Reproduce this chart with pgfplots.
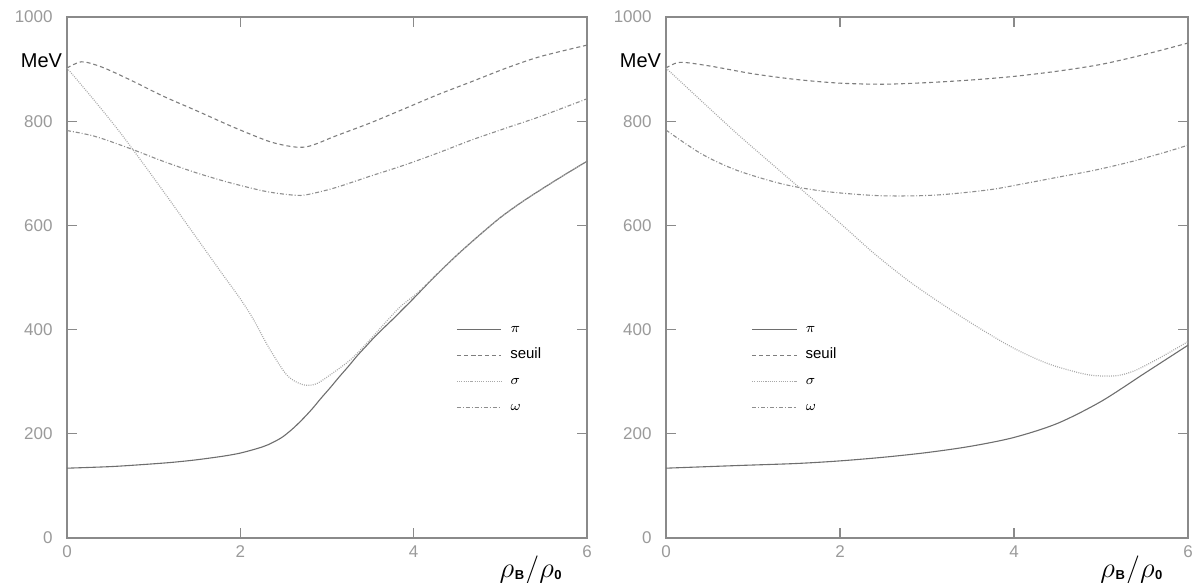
\documentclass[border=0pt]{standalone}
\usepackage{pgfplots}
\pgfplotsset{compat=1.18}
\usepackage{fontspec}
\setmainfont{Liberation Sans}
\definecolor{frame}{HTML}{8A8A8A}
\definecolor{tlab}{HTML}{9A9A9A}
\definecolor{cpi}{HTML}{6E6E6E}
\definecolor{cseuil}{HTML}{7E7E7E}
\definecolor{csig}{HTML}{A8A8A8}
\definecolor{comega}{HTML}{8E8E8E}
\tikzset{
  leg/.style={font=\fontsize{7.5}{8}\selectfont, anchor=base west, inner sep=0pt, yshift=-1.3pt},
  xlab/.style={inner sep=0pt, anchor=north, yshift=-9pt},
}
\newcommand{\rholab}{{\fontsize{14}{14}\selectfont$\rho$}\kern0.3pt\raisebox{-0.6pt}{\fontsize{6.5}{6.5}\selectfont\textbf{B}}\kern0.5pt{\fontsize{14}{14}\selectfont$/\rho$}\kern0.3pt\raisebox{-0.6pt}{\fontsize{6.5}{6.5}\selectfont\textbf{0}}}
\pgfplotsset{
  panel/.style={
    scale only axis, width=260.5pt, height=260.5pt,
    xmin=0, xmax=6, ymin=0, ymax=1000,
    xtick={0,2,4,6}, ytick={0,200,400,600,800,1000},
    tick align=inside, major tick length=5pt,
    axis line style={draw=frame, line width=0.6pt},
    every tick/.style={draw=frame, line width=0.6pt},
    tick label style={font=\fontsize{8.5}{9}\selectfont, text=tlab, inner sep=0pt},
    /pgf/number format/assume math mode=true,
    /pgf/number format/1000 sep={},
    yticklabel style={anchor=east, xshift=-7pt},
    xticklabel style={anchor=north, yshift=-3.5pt},
    clip=false,
  },
  spi/.style={color=cpi, line width=0.55pt, smooth},
  sseuil/.style={color=cseuil, line width=0.55pt, dash pattern=on 2pt off 1.5pt, smooth},
  ssig/.style={color=csig, line width=0.6pt, dash pattern=on 0.45pt off 0.65pt, smooth},
  somega/.style={color=comega, line width=0.55pt, dash pattern=on 2pt off 1pt on 0.45pt off 1pt, smooth},
}
\begin{document}
\begin{tikzpicture}
\useasboundingbox (0,0) rectangle (597.5pt,291.5pt);
% ---------------- left panel
\begin{axis}[panel, at={(33.5pt,22.5pt)}, anchor=south west, width=260pt]
\addplot[spi] coordinates {(0,134) (0.5,137) (0.88,141) (1.2,145) (1.49,150) (1.8,157) (2,163) (2.2,172) (2.32,179) (2.45,190) (2.52,198) (2.62,212) (2.73,230) (2.83,248) (2.93,268) (3.04,289) (3.14,309) (3.25,330) (3.35,350) (3.45,368) (3.55,386) (3.66,404) (3.76,420) (3.88,440) (4,460) (4.25,503) (4.5,543) (4.75,580) (5,615) (5.25,645) (5.5,672) (5.75,698) (6,723)};
\addplot[sseuil] coordinates {(0,902) (0.17,914) (0.4,904) (0.72,880) (1.11,848) (1.51,819) (1.9,790) (2.3,763) (2.5,754) (2.66,750) (2.77,751) (2.9,758) (3.09,771) (3.49,796) (3.88,823) (4.28,851) (4.67,876) (5.07,902) (5.46,924) (6,946)};
\addplot[ssig] coordinates {(0,902) (0.3,843) (0.6,781) (0.9,714) (1.2,645) (1.5,575) (1.8,505) (2.0,459) (2.15,420) (2.32,368) (2.52,316) (2.65,299) (2.77,293) (2.89,297) (3.07,317) (3.27,342) (3.46,374) (3.65,409) (3.84,443) (4.04,470) (4.25,503) (4.5,543) (4.75,580) (5,615) (5.25,645) (5.5,672) (5.75,698) (6,723)};
\addplot[somega] coordinates {(0,782) (0.32,771) (0.72,748) (1.11,723) (1.51,700) (1.9,681) (2.3,665) (2.62,658) (2.77,659) (3.09,672) (3.49,694) (3.88,715) (4.28,739) (4.67,764) (5.07,787) (5.46,809) (6,843)};
% legend
\addplot[spi] coordinates {(4.5,400) (5.01,400)};
\addplot[sseuil] coordinates {(4.5,350) (5.01,350)};
\addplot[ssig] coordinates {(4.5,300) (5.01,300)};
\addplot[somega] coordinates {(4.5,250) (5.01,250)};
\node[leg] at (axis cs:5.11,400) {$\pi$};
\node[leg] at (axis cs:5.11,350) {seuil};
\node[leg] at (axis cs:5.11,300) {$\sigma$};
\node[leg] at (axis cs:5.11,250) {$\omega$};
\node[anchor=east, inner sep=0pt, font=\fontsize{10}{10}\selectfont] at (rel axis cs:0,0.917) [xshift=-2.3pt] {MeV};
\node[xlab] at (axis cs:5.35,0) {\rholab};
\end{axis}
% ---------------- right panel
\begin{axis}[panel, at={(333pt,22.5pt)}, anchor=south west, width=261pt]
\addplot[spi] coordinates {(0,134) (0.81,139) (1.5,143) (2,148) (2.5,155) (3,164) (3.5,176) (4,193) (4.5,220) (5,262) (5.5,316) (6,370)};
\addplot[sseuil] coordinates {(0,902) (0.16,913) (0.5,906) (1.0,891) (1.5,880) (2,873) (2.5,871) (3,874) (3.5,879) (4,886) (4.5,896) (5,909) (5.5,928) (6,950)};
\addplot[ssig] coordinates {(0,902) (0.4,840) (0.81,777) (1.23,716) (1.64,657) (2.05,597) (2.4,545) (2.8,492) (3.2,446) (3.6,403) (4.0,364) (4.4,334) (4.8,315) (5.0,311) (5.2,312) (5.4,322) (5.7,348) (6,377)};
\addplot[somega] coordinates {(0,783) (0.4,738) (0.81,706) (1.35,679) (1.84,665) (2.46,657) (3.08,658) (3.7,668) (4.11,680) (4.52,693) (4.93,706) (5.34,722) (5.75,741) (6,754)};
% legend
\addplot[spi] coordinates {(0.99,400) (1.5,400)};
\addplot[sseuil] coordinates {(0.99,350) (1.5,350)};
\addplot[ssig] coordinates {(0.99,300) (1.5,300)};
\addplot[somega] coordinates {(0.99,250) (1.5,250)};
\node[leg] at (axis cs:1.6,400) {$\pi$};
\node[leg] at (axis cs:1.6,350) {seuil};
\node[leg] at (axis cs:1.6,300) {$\sigma$};
\node[leg] at (axis cs:1.6,250) {$\omega$};
\node[anchor=east, inner sep=0pt, font=\fontsize{10}{10}\selectfont] at (rel axis cs:0,0.917) [xshift=-2.3pt] {MeV};
\node[xlab] at (axis cs:5.35,0) {\rholab};
\end{axis}
\end{tikzpicture}
\end{document}
